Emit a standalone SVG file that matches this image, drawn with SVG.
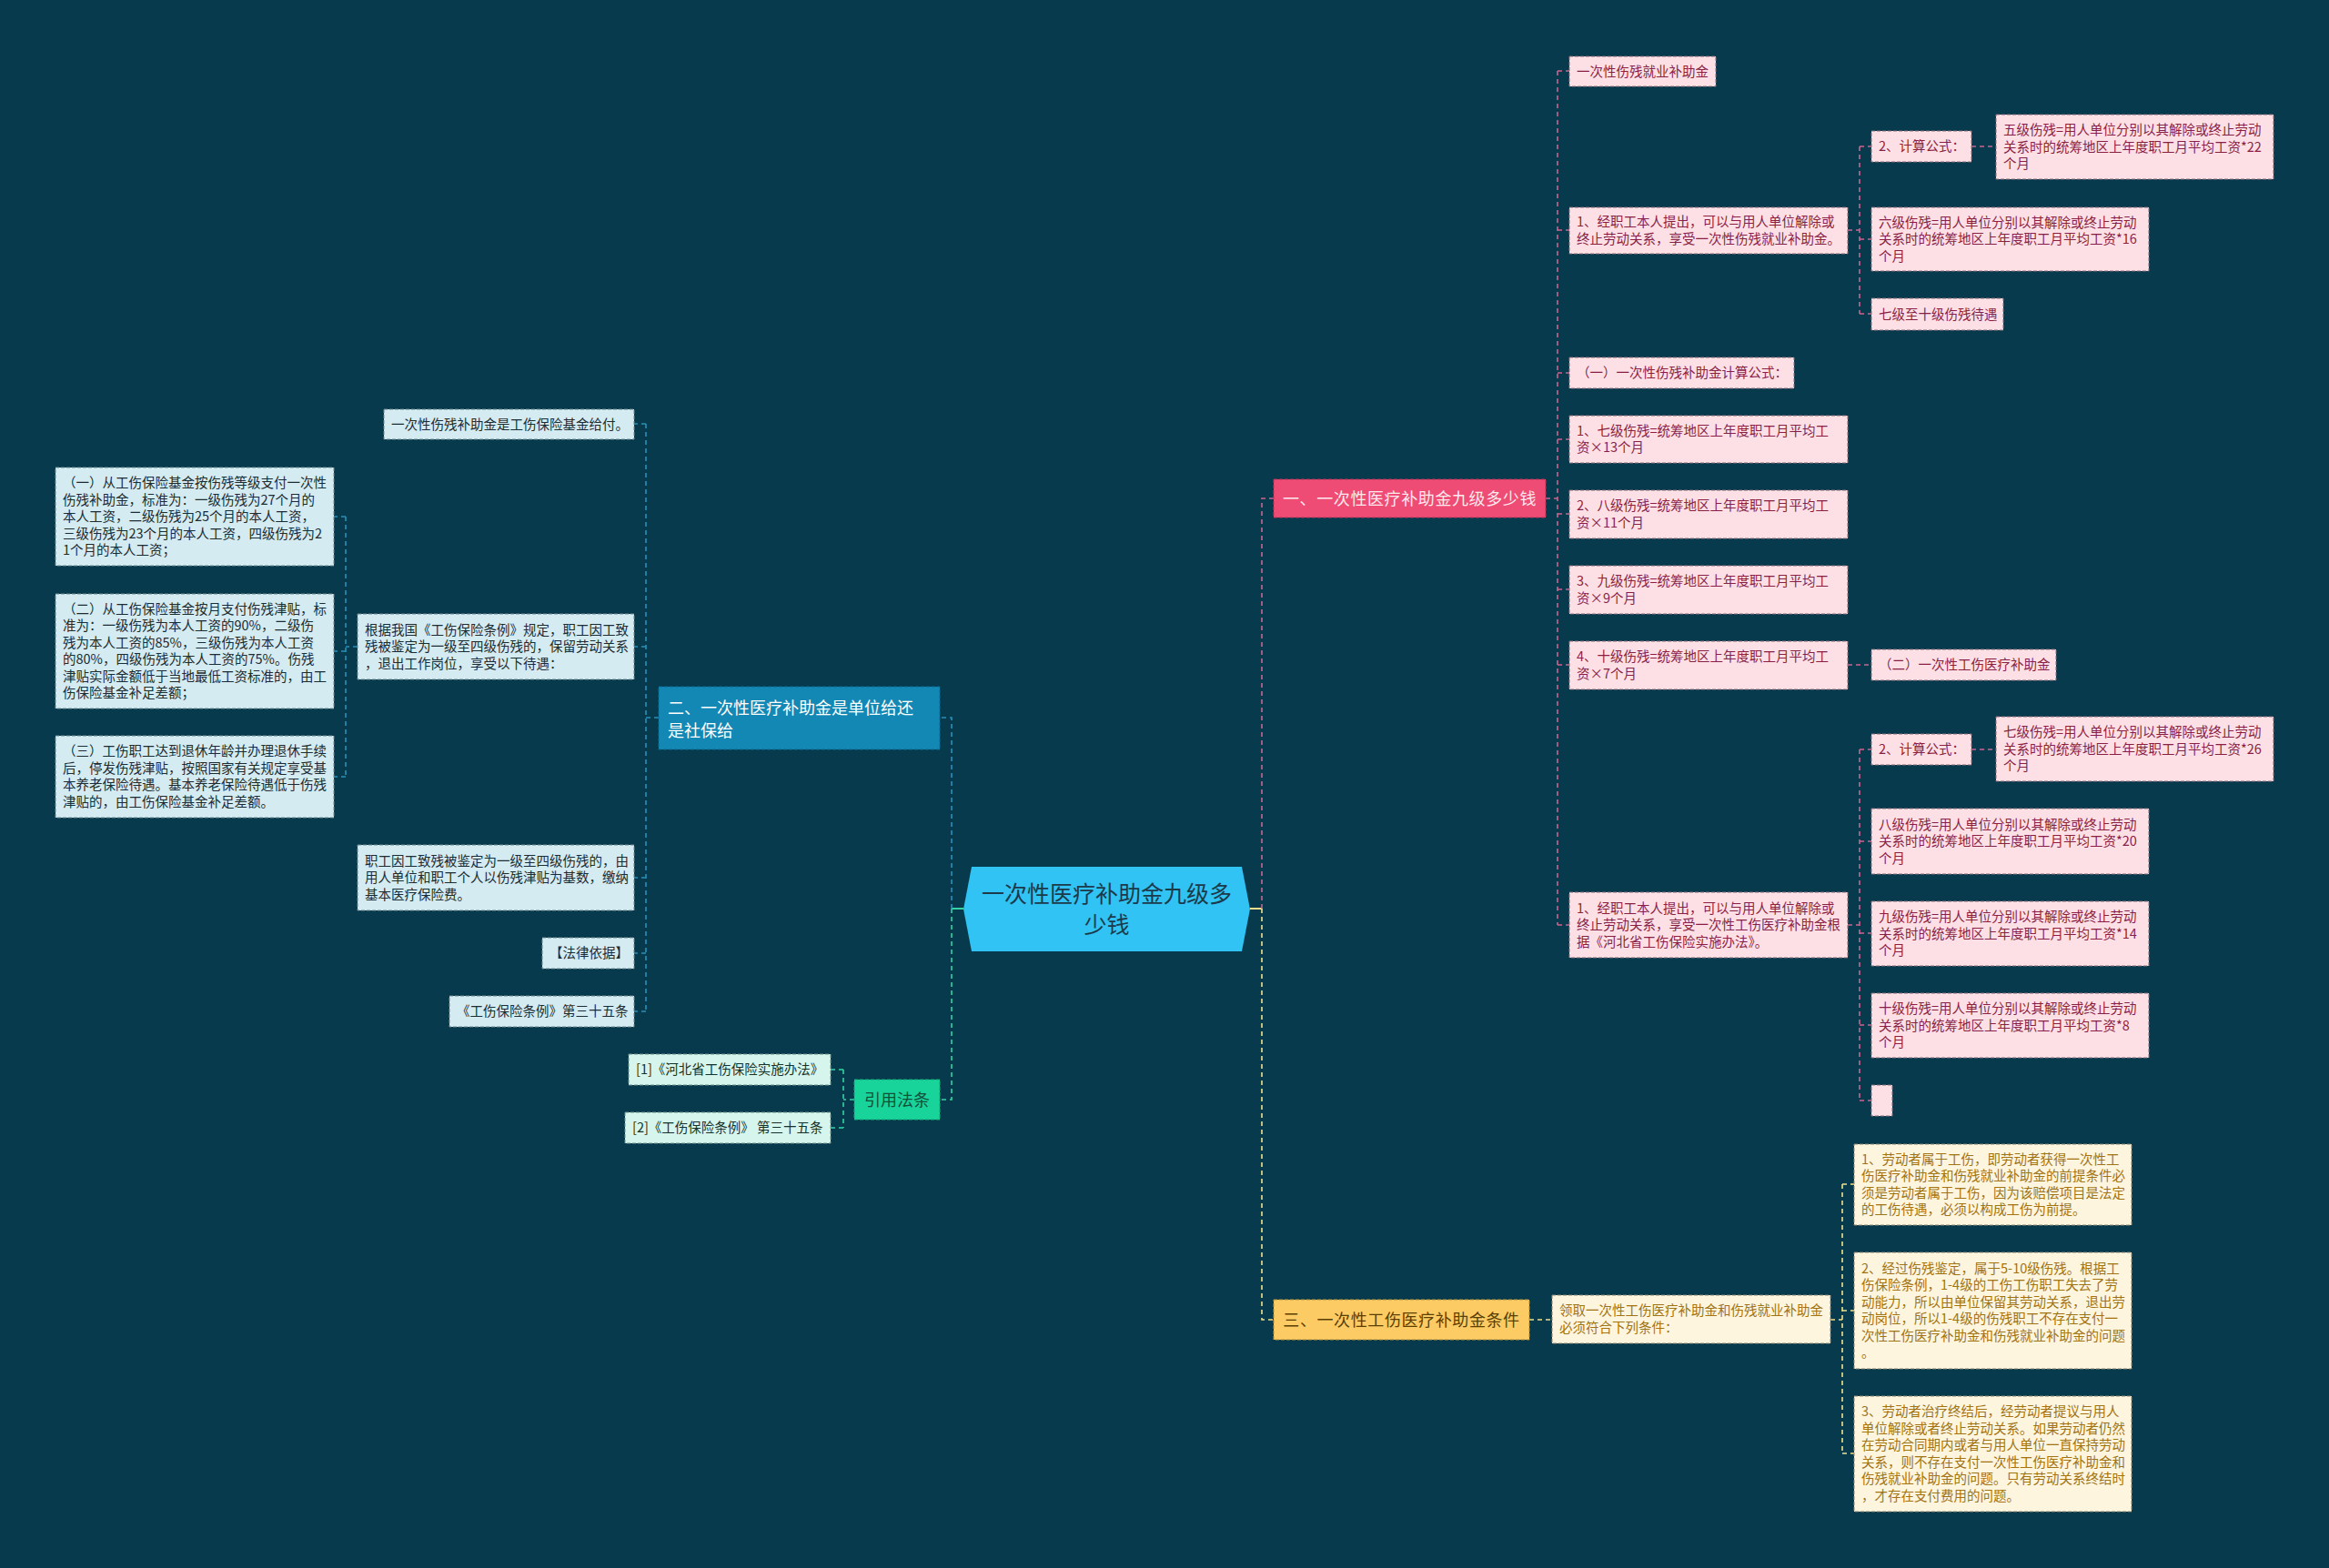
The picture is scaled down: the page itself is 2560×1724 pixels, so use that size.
<svg xmlns="http://www.w3.org/2000/svg" width="2560" height="1724" viewBox="0 0 2560 1724">
<style>
text{font-family:"Noto Sans CJK SC","Noto Sans",sans-serif;}
.lt{font-size:14.5px;}
.pl{fill:#fde0e6;stroke:#8e6c77;stroke-width:1;stroke-dasharray:4 2;}
.pt{fill:#8a1f45;}
.bl{fill:#d4ebf1;stroke:#6f8890;stroke-width:1;stroke-dasharray:4 2;}
.bt{fill:#1c2c34;}
.gl{fill:#d6f6ed;stroke:#6f9088;stroke-width:1;stroke-dasharray:4 2;}
.gt{fill:#16322a;}
.yl{fill:#fdf5de;stroke:#8f8670;stroke-width:1;stroke-dasharray:4 2;}
.yt{fill:#a17312;}
.c{fill:none;stroke-width:1.6;stroke-dasharray:5 4;}
.cp{stroke:#c9668f;}
.cy{stroke:#f2e08a;}
.cb{stroke:#2a90b8;}
.cg{stroke:#35d3a3;}
.mt{font-size:18px;}
</style>
<rect width="2560" height="1724" fill="#063a4c"/>
<g id="connectors">
<path d="M1374,999 H1387" fill="none" stroke="#f2e08a" stroke-width="2"/>
<path class="c cp" stroke-width="2.2" d="M1387,999 V548 H1400"/>
<path class="c cy" stroke-width="2.2" d="M1387,999 V1451 H1400"/>
<path class="c cp" d="M1699,548 H1712 M1712,78 V1017 M1712,78 H1725 M1712,253 H1725 M1712,410 H1725 M1712,483 H1725 M1712,565 H1725 M1712,648 H1725 M1712,731 H1725 M1712,1017 H1725"/>
<path class="c cp" d="M2031,253 H2044 M2044,161 V345 M2044,161 H2057 M2044,263 H2057 M2044,345 H2057 M2167,161 H2194"/>
<path class="c cp" d="M2031,731 H2057"/>
<path class="c cp" d="M2031,1017 H2044 M2044,824 V1210 M2044,824 H2057 M2044,925 H2057 M2044,1026 H2057 M2044,1127 H2057 M2044,1210 H2057 M2167,824 H2194"/>
<path class="c cy" d="M1681,1451 H1706 M2012,1451 H2025 M2025,1302 V1598 M2025,1302 H2038 M2025,1441 H2038 M2025,1598 H2038"/>
<path d="M1059,999 H1046" fill="none" stroke="#35d3a3" stroke-width="2"/>
<path class="c cb" stroke-width="2" d="M1046,999 V789 H1033"/>
<path class="c cg" stroke-width="2" d="M1046,999 V1209 H1033"/>
<path class="c cb" d="M724,789 H710 M710,466 V1112 M710,466 H697 M710,711 H697 M710,965 H697 M710,1048 H697 M710,1112 H697"/>
<path class="c cb" d="M393,711 H380 M380,568 V854 M380,568 H367 M380,716 H367 M380,854 H367"/>
<path class="c cg" d="M939,1209 H927 M927,1176 V1240 M927,1176 H913 M927,1240 H913"/>
</g>
<g id="root">
<polygon points="1068,953 1365,953 1374,999.5 1365,1046 1068,1046 1059,999.5" fill="#30c3f3"/>
<text x="1216.5" y="992" font-size="25" text-anchor="middle" fill="#1c3a4a">一次性医疗补助金九级多</text>
<text x="1216.5" y="1026" font-size="25" text-anchor="middle" fill="#1c3a4a">少钱</text>
</g>
<g id="b1">
<rect x="1400" y="527" width="299" height="42" fill="#ee4c74" stroke="#b8345a" stroke-dasharray="4 2"/>
<text class="mt" x="1549.5" y="554.5" text-anchor="middle" fill="#ffe8ee" letter-spacing="0.6">一、一次性医疗补助金九级多少钱</text>
</g>
<g id="b3">
<rect x="1400" y="1429" width="281" height="44" fill="#fdcb63" stroke="#b8913a" stroke-dasharray="4 2"/>
<text class="mt" x="1540.5" y="1457.5" text-anchor="middle" fill="#5a3f00" letter-spacing="0.6">三、一次性工伤医疗补助金条件</text>
</g>
<g id="b2">
<rect x="724" y="755" width="309" height="69" fill="#1388b5" stroke="#0d6a8e" stroke-dasharray="4 2"/>
<text class="mt" x="734" y="784.5" fill="#ffffff">二、一次性医疗补助金是单位给还</text>
<text class="mt" x="734" y="809.5" fill="#ffffff">是社保给</text>
</g>
<g id="b4">
<rect x="939" y="1187" width="94" height="44" fill="#19d49a" stroke="#10a878" stroke-dasharray="4 2"/>
<text class="mt" x="986" y="1215.5" text-anchor="middle" fill="#12503c">引用法条</text>
</g>
<g id="p1"><rect class="pl" x="1725" y="62" width="161" height="33"/><text class="lt pt" x="1733" y="83.5">一次性伤残就业补助金</text></g>
<g id="p2"><rect class="pl" x="1725" y="228" width="306" height="51"/><text class="lt pt" x="1733" y="249.25"><tspan x="1733">1、经职工本人提出，可以与用人单位解除或</tspan><tspan x="1733" dy="18.5">终止劳动关系，享受一次性伤残就业补助金。</tspan></text></g>
<g id="p3"><rect class="pl" x="2057" y="144" width="110" height="34"/><text class="lt pt" x="2065" y="166">2、计算公式：</text></g>
<g id="p4"><rect class="pl" x="2194" y="126" width="305" height="71"/><text class="lt pt" x="2202" y="148"><tspan x="2202">五级伤残=用人单位分别以其解除或终止劳动</tspan><tspan x="2202" dy="18.5">关系时的统筹地区上年度职工月平均工资*22</tspan><tspan x="2202" dy="18.5">个月</tspan></text></g>
<g id="p5"><rect class="pl" x="2057" y="228" width="305" height="70"/><text class="lt pt" x="2065" y="249.5"><tspan x="2065">六级伤残=用人单位分别以其解除或终止劳动</tspan><tspan x="2065" dy="18.5">关系时的统筹地区上年度职工月平均工资*16</tspan><tspan x="2065" dy="18.5">个月</tspan></text></g>
<g id="p6"><rect class="pl" x="2057" y="328" width="145" height="35"/><text class="lt pt" x="2065" y="350.5">七级至十级伤残待遇</text></g>
<g id="p7"><rect class="pl" x="1725" y="393" width="247" height="34"/><text class="lt pt" x="1733" y="415">（一）一次性伤残补助金计算公式：</text></g>
<g id="p8"><rect class="pl" x="1725" y="457" width="306" height="52"/><text class="lt pt" x="1733" y="478.75"><tspan x="1733">1、七级伤残=统筹地区上年度职工月平均工</tspan><tspan x="1733" dy="18.5">资×13个月</tspan></text></g>
<g id="p9"><rect class="pl" x="1725" y="539" width="306" height="53"/><text class="lt pt" x="1733" y="561.25"><tspan x="1733">2、八级伤残=统筹地区上年度职工月平均工</tspan><tspan x="1733" dy="18.5">资×11个月</tspan></text></g>
<g id="p10"><rect class="pl" x="1725" y="622" width="306" height="53"/><text class="lt pt" x="1733" y="644.25"><tspan x="1733">3、九级伤残=统筹地区上年度职工月平均工</tspan><tspan x="1733" dy="18.5">资×9个月</tspan></text></g>
<g id="p11"><rect class="pl" x="1725" y="705" width="306" height="53"/><text class="lt pt" x="1733" y="727.25"><tspan x="1733">4、十级伤残=统筹地区上年度职工月平均工</tspan><tspan x="1733" dy="18.5">资×7个月</tspan></text></g>
<g id="p12"><rect class="pl" x="2057" y="714" width="203" height="34"/><text class="lt pt" x="2065" y="736">（二）一次性工伤医疗补助金</text></g>
<g id="p13"><rect class="pl" x="1725" y="981" width="306" height="72"/><text class="lt pt" x="1733" y="1003.5"><tspan x="1733">1、经职工本人提出，可以与用人单位解除或</tspan><tspan x="1733" dy="18.5">终止劳动关系，享受一次性工伤医疗补助金根</tspan><tspan x="1733" dy="18.5">据《河北省工伤保险实施办法》。</tspan></text></g>
<g id="p14"><rect class="pl" x="2057" y="807" width="110" height="34"/><text class="lt pt" x="2065" y="829">2、计算公式：</text></g>
<g id="p15"><rect class="pl" x="2194" y="788" width="305" height="71"/><text class="lt pt" x="2202" y="810"><tspan x="2202">七级伤残=用人单位分别以其解除或终止劳动</tspan><tspan x="2202" dy="18.5">关系时的统筹地区上年度职工月平均工资*26</tspan><tspan x="2202" dy="18.5">个月</tspan></text></g>
<g id="p16"><rect class="pl" x="2057" y="889" width="305" height="72"/><text class="lt pt" x="2065" y="911.5"><tspan x="2065">八级伤残=用人单位分别以其解除或终止劳动</tspan><tspan x="2065" dy="18.5">关系时的统筹地区上年度职工月平均工资*20</tspan><tspan x="2065" dy="18.5">个月</tspan></text></g>
<g id="p17"><rect class="pl" x="2057" y="991" width="305" height="71"/><text class="lt pt" x="2065" y="1013"><tspan x="2065">九级伤残=用人单位分别以其解除或终止劳动</tspan><tspan x="2065" dy="18.5">关系时的统筹地区上年度职工月平均工资*14</tspan><tspan x="2065" dy="18.5">个月</tspan></text></g>
<g id="p18"><rect class="pl" x="2057" y="1092" width="305" height="71"/><text class="lt pt" x="2065" y="1114"><tspan x="2065">十级伤残=用人单位分别以其解除或终止劳动</tspan><tspan x="2065" dy="18.5">关系时的统筹地区上年度职工月平均工资*8</tspan><tspan x="2065" dy="18.5">个月</tspan></text></g>
<g id="p19"><rect class="pl" x="2057" y="1193" width="23" height="34"/></g>
<g id="y1"><rect class="yl" x="1706" y="1424" width="306" height="53"/><text class="lt yt" x="1714" y="1446.25"><tspan x="1714">领取一次性工伤医疗补助金和伤残就业补助金</tspan><tspan x="1714" dy="18.5">必须符合下列条件：</tspan></text></g>
<g id="y2"><rect class="yl" x="2038" y="1258" width="305" height="89"/><text class="lt yt" x="2046" y="1279.75"><tspan x="2046">1、劳动者属于工伤，即劳动者获得一次性工</tspan><tspan x="2046" dy="18.5">伤医疗补助金和伤残就业补助金的前提条件必</tspan><tspan x="2046" dy="18.5">须是劳动者属于工伤，因为该赔偿项目是法定</tspan><tspan x="2046" dy="18.5">的工伤待遇，必须以构成工伤为前提。</tspan></text></g>
<g id="y3"><rect class="yl" x="2038" y="1377" width="305" height="128"/><text class="lt yt" x="2046" y="1399.75"><tspan x="2046">2、经过伤残鉴定，属于5-10级伤残。根据工</tspan><tspan x="2046" dy="18.5">伤保险条例，1-4级的工伤工伤职工失去了劳</tspan><tspan x="2046" dy="18.5">动能力，所以由单位保留其劳动关系，退出劳</tspan><tspan x="2046" dy="18.5">动岗位，所以1-4级的伤残职工不存在支付一</tspan><tspan x="2046" dy="18.5">次性工伤医疗补助金和伤残就业补助金的问题</tspan><tspan x="2046" dy="18.5">。</tspan></text></g>
<g id="y4"><rect class="yl" x="2038" y="1535" width="305" height="127"/><text class="lt yt" x="2046" y="1557.25"><tspan x="2046">3、劳动者治疗终结后，经劳动者提议与用人</tspan><tspan x="2046" dy="18.5">单位解除或者终止劳动关系。如果劳动者仍然</tspan><tspan x="2046" dy="18.5">在劳动合同期内或者与用人单位一直保持劳动</tspan><tspan x="2046" dy="18.5">关系，则不存在支付一次性工伤医疗补助金和</tspan><tspan x="2046" dy="18.5">伤残就业补助金的问题。只有劳动关系终结时</tspan><tspan x="2046" dy="18.5">，才存在支付费用的问题。</tspan></text></g>
<g id="l1"><rect class="bl" x="422" y="450" width="275" height="33"/><text class="lt bt" x="430" y="471.5">一次性伤残补助金是工伤保险基金给付。</text></g>
<g id="l2"><rect class="bl" x="393" y="675" width="304" height="72"/><text class="lt bt" x="401" y="697.5"><tspan x="401">根据我国《工伤保险条例》规定，职工因工致</tspan><tspan x="401" dy="18.5">残被鉴定为一级至四级伤残的，保留劳动关系</tspan><tspan x="401" dy="18.5">，退出工作岗位，享受以下待遇：</tspan></text></g>
<g id="l3"><rect class="bl" x="61" y="514" width="306" height="108"/><text class="lt bt" x="69" y="536"><tspan x="69">（一）从工伤保险基金按伤残等级支付一次性</tspan><tspan x="69" dy="18.5">伤残补助金，标准为：一级伤残为27个月的</tspan><tspan x="69" dy="18.5">本人工资，二级伤残为25个月的本人工资，</tspan><tspan x="69" dy="18.5">三级伤残为23个月的本人工资，四级伤残为2</tspan><tspan x="69" dy="18.5">1个月的本人工资；</tspan></text></g>
<g id="l4"><rect class="bl" x="61" y="653" width="306" height="126"/><text class="lt bt" x="69" y="674.75"><tspan x="69">（二）从工伤保险基金按月支付伤残津贴，标</tspan><tspan x="69" dy="18.5">准为：一级伤残为本人工资的90%，二级伤</tspan><tspan x="69" dy="18.5">残为本人工资的85%，三级伤残为本人工资</tspan><tspan x="69" dy="18.5">的80%，四级伤残为本人工资的75%。伤残</tspan><tspan x="69" dy="18.5">津贴实际金额低于当地最低工资标准的，由工</tspan><tspan x="69" dy="18.5">伤保险基金补足差额；</tspan></text></g>
<g id="l5"><rect class="bl" x="61" y="809" width="306" height="90"/><text class="lt bt" x="69" y="831.25"><tspan x="69">（三）工伤职工达到退休年龄并办理退休手续</tspan><tspan x="69" dy="18.5">后，停发伤残津贴，按照国家有关规定享受基</tspan><tspan x="69" dy="18.5">本养老保险待遇。基本养老保险待遇低于伤残</tspan><tspan x="69" dy="18.5">津贴的，由工伤保险基金补足差额。</tspan></text></g>
<g id="l6"><rect class="bl" x="393" y="929" width="304" height="72"/><text class="lt bt" x="401" y="951.5"><tspan x="401">职工因工致残被鉴定为一级至四级伤残的，由</tspan><tspan x="401" dy="18.5">用人单位和职工个人以伤残津贴为基数，缴纳</tspan><tspan x="401" dy="18.5">基本医疗保险费。</tspan></text></g>
<g id="l7"><rect class="bl" x="596" y="1031" width="101" height="34"/><text class="lt bt" x="604" y="1053">【法律依据】</text></g>
<g id="l8"><rect class="bl" x="494" y="1095" width="203" height="34"/><text class="lt bt" x="502" y="1117">《工伤保险条例》第三十五条</text></g>
<g id="g1"><rect class="gl" x="691" y="1159" width="222" height="34"/><text class="lt gt" x="699" y="1181">[1]《河北省工伤保险实施办法》</text></g>
<g id="g2"><rect class="gl" x="687" y="1223" width="226" height="34"/><text class="lt gt" x="695" y="1245">[2]《工伤保险条例》 第三十五条</text></g>
</svg>
